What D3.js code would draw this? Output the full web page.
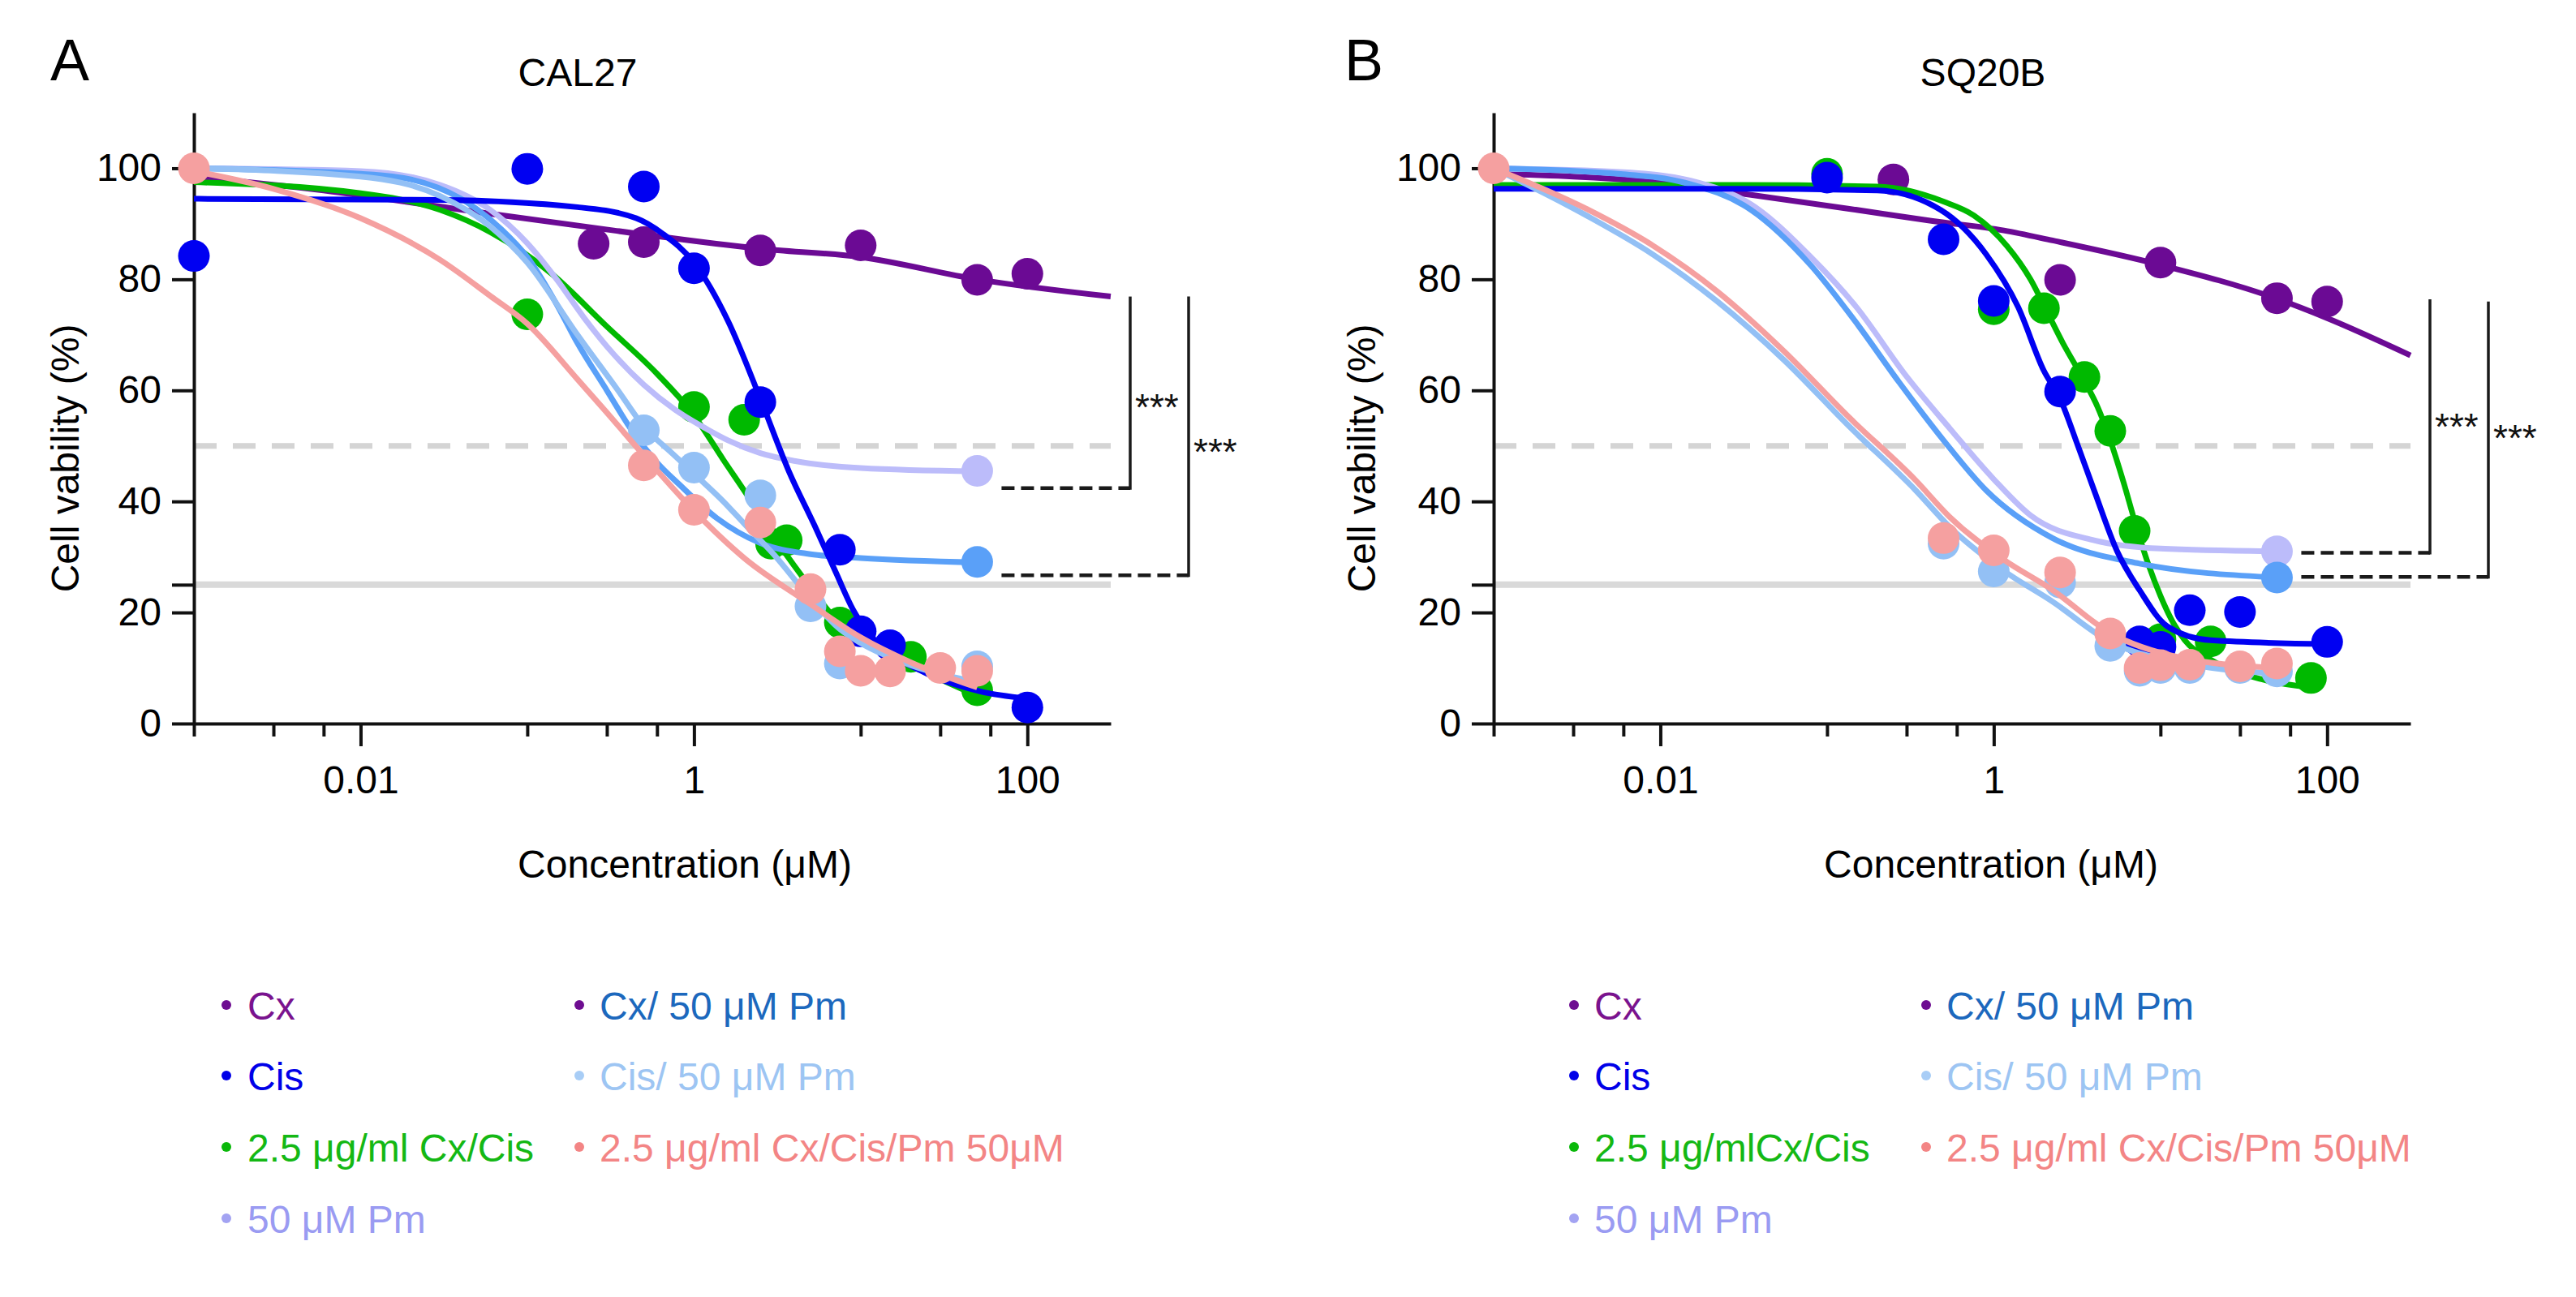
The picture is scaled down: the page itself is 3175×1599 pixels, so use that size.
<!DOCTYPE html>
<html>
<head>
<meta charset="utf-8">
<script src="https://cdn.jsdelivr.net/npm/d3@7"></script>
<style>
  body { margin: 0; background: #fff; }
  text { font-family: "Liberation Sans", Arial, Helvetica, sans-serif; }
</style>
</head>
<body>
<svg id="chart"></svg>
<script>
// ---- axis ticks ----
var xMajorTicks = [0.01, 1, 100];
var xMinorTicks = [0.001, 0.003, 0.006, 0.1, 0.3, 0.6, 10, 30, 60];
var yTicks = [0, 20, 25, 40, 60, 80, 100];

// ---- CAL27 (panel A) : [concentration uM, viability %] ----
var calCxDots = [[0.25, 86.4], [0.5, 86.7], [2.5, 85.2], [10, 86.1], [50, 79.9], [100, 81]];
var calCxFit = [[0.001, 98.5], [0.006, 96], [0.035, 92.8], [0.33, 88.8], [2.5, 85.5], [10, 84], [50, 80], [316, 76.9]];

var calCisDots = [[0.001, 84.2], [0.1, 99.9], [0.5, 96.7], [1, 82], [2.5, 57.9], [7.5, 31.3], [10, 16.6], [15, 14.1], [100, 2.9]];
var calCisFit = [[0.001, 94.5], [0.03, 94.3], [0.2, 93], [0.45, 91], [0.65, 88.2], [1, 83], [1.6, 72.5], [2.5, 58.5], [3.7, 45.5],
                 [5.3, 35.6], [7.1, 27.2], [9, 20.5], [12.4, 14.7], [23, 9.5], [52, 5.8], [100, 4.5]];

var calComboDots = [[0.1, 73.7], [1, 57], [2, 54.7], [2.9, 32.4], [3.6, 33], [7.5, 18.2], [20, 12], [50, 6]];
var calComboFit = [[0.001, 97.5], [0.01, 95.5], [0.03, 92.5], [0.06, 88.5], [0.14, 81], [0.3, 71.5], [0.6, 63], [1, 55.5],
                   [1.5, 47.5], [2.1, 41], [3.2, 32.5], [5, 24.5], [7, 19], [12, 14], [20, 10.5], [50, 5]];

var calPmDots = [[50, 45.5]];
var calPmFit = [[0.001, 100], [0.01, 99.5], [0.03, 97], [0.06, 92.5], [0.1, 86.5], [0.15, 80], [0.22, 73], [0.33, 66.5],
                [0.5, 61], [0.77, 56.5], [1.2, 53], [1.6, 51], [2.5, 48.7], [4, 47.3], [10, 46], [50, 45.4]];

var calCxPmDots = [[50, 29.1]];
var calCxPmFit = [[0.001, 100], [0.01, 99], [0.02, 98], [0.04, 94.5], [0.07, 89], [0.1, 84], [0.15, 75.5], [0.2, 68.5],
                  [0.3, 60], [0.43, 52.5], [0.6, 47], [0.82, 43], [1.37, 37], [2.5, 32.5], [5, 30.5], [10, 29.8], [50, 29]];

var calCisPmDots = [[0.5, 52.8], [1, 46.1], [2.5, 41.1], [5, 21.1], [7.5, 10.8], [50, 10.3]];
var calCisPmFit = [[0.001, 100], [0.01, 98.5], [0.03, 95], [0.06, 89.5], [0.1, 83], [0.2, 70], [0.35, 60], [0.5, 53.5],
                   [0.75, 48.5], [1, 45], [1.5, 40], [2, 36], [3, 30.5], [5, 22.5], [7.5, 17], [10, 14.5], [20, 10.5], [50, 7.5]];

var calComboPmDots = [[0.001, 100], [0.5, 46.5], [1, 38.5], [2.5, 36.2], [5, 24.2], [7.5, 13], [10, 9.5], [15, 9.4], [30, 10], [50, 9.5]];
var calComboPmFit = [[0.001, 99.5], [0.003, 96.3], [0.01, 91], [0.03, 83.5], [0.06, 77], [0.1, 72], [0.2, 62], [0.3, 56],
                     [0.5, 48.3], [1, 38.3], [2, 29.8], [5, 21.5], [10, 15.5], [20, 11], [50, 6.5]];

// ---- SQ20B (panel B) ----
var sqCxDots = [[0.25, 98], [2.5, 79.9], [10, 83], [50, 76.6], [100, 76]];
var sqCxFit = [[0.001, 99], [0.009, 97.5], [0.035, 95.2], [0.136, 92.7], [0.43, 90.5], [1.15, 88.8], [2.25, 87],
               [10, 82.6], [50, 76.5], [100, 73], [316, 66.3]];

var sqCisDots = [[0.1, 98.3], [0.5, 87.2], [1, 76.1], [2.5, 59.8], [7.5, 14.8], [10, 13.8], [15, 20.4], [30, 20.1], [100, 14.7]];
var sqCisFit = [[0.001, 96.3], [0.03, 96.3], [0.2, 96], [0.48, 92.5], [0.9, 84.5], [1.4, 75], [2, 63.5], [2.5, 58.5],
                [3.2, 50], [4, 42], [5.5, 31], [7.5, 24], [11, 17.5], [20, 15], [100, 14.3]];

var sqComboDots = [[0.1, 99], [1, 74.6], [2, 74.8], [3.5, 62.4], [5, 52.7], [7, 34.7], [10, 15.2], [20, 14.8], [80, 8.2]];
var sqComboFit = [[0.001, 97], [0.03, 97], [0.2, 96.7], [0.5, 94], [0.76, 91.5], [1.2, 86], [1.66, 80], [2.1, 74],
                  [2.6, 68.5], [3.45, 62], [4.2, 57], [5, 51], [6, 43.5], [7, 36.5], [8.5, 28.5], [10, 23], [12, 18],
                  [14, 15], [20, 11.5], [40, 8], [80, 6.5]];

var sqPmDots = [[50, 31]];
var sqPmFit = [[0.001, 100], [0.006, 99.3], [0.015, 97.8], [0.035, 93.5], [0.08, 84], [0.15, 75], [0.3, 62.5],
               [0.55, 53], [1, 44], [1.66, 37.5], [4, 33], [10, 31.5], [50, 31]];

var sqCxPmDots = [[50, 26.3]];
var sqCxPmFit = [[0.001, 100], [0.0056, 99], [0.014, 97.4], [0.035, 92.5], [0.08, 82.5], [0.147, 72.5], [0.27, 61.5],
                 [0.5, 51], [0.9, 42], [2.25, 33.4], [7.5, 28.8], [50, 26.3]];

var sqCisPmDots = [[0.5, 32.4], [1, 27.4], [2.5, 25.4], [5, 14], [7.5, 9.5], [10, 10], [15, 10], [30, 10], [50, 9.4]];
var sqCisPmFit = [[0.001, 100], [0.0036, 91.5], [0.009, 84.5], [0.022, 76], [0.055, 65.5], [0.136, 53.5], [0.34, 42],
                  [0.54, 35.5], [1.15, 27.5], [2.24, 22], [5, 14.7], [13, 11], [50, 9]];

var sqComboPmDots = [[0.001, 100], [0.5, 33.4], [1, 31.2], [2.5, 27.2], [5, 16.2], [7.5, 10], [10, 10.5], [15, 10.6], [30, 10.3], [50, 10.8]];
var sqComboPmFit = [[0.001, 100], [0.0036, 92.7], [0.009, 86.1], [0.022, 77.8], [0.055, 67.1], [0.136, 55.1], [0.34, 43.8],
                    [0.54, 37.3], [1.15, 29.5], [2.24, 24.1], [5, 16.3], [13, 11.9], [50, 10]];

// ---- significance brackets (viability %) ----
var calBracketTop = [76.9, 76.9];
var calBracketBottom = [42.4, 26.7];
var calStarLevel = [58.4, 50.4];
var sqBracketTop = [76.4, 76];
var sqBracketBottom = [30.75, 26.4];
var sqStarLevel = [54.9, 52.9];

// ---- legend ----
var legendA = ["Cx", "Cis", "2.5 μg/ml Cx/Cis", "50 μM Pm", "Cx/ 50 μM Pm", "Cis/ 50 μM Pm", "2.5 μg/ml Cx/Cis/Pm 50μM"];
var legendB = ["Cx", "Cis", "2.5 μg/mlCx/Cis", "50 μM Pm", "Cx/ 50 μM Pm", "Cis/ 50 μM Pm", "2.5 μg/ml Cx/Cis/Pm 50μM"];
var legendTextColors = ["#7a138e", "#0000e8", "#14b814", "#9a9bf2", "#1c68bd", "#9dc5f3", "#f38585"];
var legendDotColors = ["#6e0d91", "#0000e8", "#0ab80a", "#a3a3f2", "#6e0d91", "#a8cdf6", "#f38585"];

// series colours (plot)
var colCx = "#6b0a94", colCis = "#0000f2", colCombo = "#00b900", colPm = "#bcbcfa",
    colCxPm = "#5aa0f8", colCisPm = "#93c0f5", colComboPm = "#f5a0a0";

var width = 3175, height = 1599;
var svg = d3.select("#chart").attr("width", width).attr("height", height);
svg.append("rect").attr("width", width).attr("height", height).attr("fill", "#fff");

var panels = [
  { letter: "A", title: "CAL27", x0: 239, x1: 1369, letterX: 62, titleX: 712, yLabelX: 97, xLabelX: 844,
    legend: legendA, legendDotX: [279, 714], legendTextX: [305, 739],
    bracketTop: calBracketTop, bracketBottom: calBracketBottom, starLevel: calStarLevel,
    series: [
      { fit: calCxFit, dots: calCxDots, color: colCx },
      { fit: calComboFit, dots: calComboDots, color: colCombo },
      { fit: calPmFit, dots: calPmDots, color: colPm },
      { fit: calCxPmFit, dots: calCxPmDots, color: colCxPm },
      { fit: calCisFit, dots: calCisDots, color: colCis },
      { fit: calCisPmFit, dots: calCisPmDots, color: colCisPm },
      { fit: calComboPmFit, dots: calComboPmDots, color: colComboPm }
    ] },
  { letter: "B", title: "SQ20B", x0: 1841, x1: 2971, letterX: 1657, titleX: 2444, yLabelX: 1695, xLabelX: 2454,
    legend: legendB, legendDotX: [1940, 2374], legendTextX: [1965, 2399],
    bracketTop: sqBracketTop, bracketBottom: sqBracketBottom, starLevel: sqStarLevel,
    series: [
      { fit: sqCxFit, dots: sqCxDots, color: colCx },
      { fit: sqComboFit, dots: sqComboDots, color: colCombo },
      { fit: sqPmFit, dots: sqPmDots, color: colPm },
      { fit: sqCxPmFit, dots: sqCxPmDots, color: colCxPm },
      { fit: sqCisFit, dots: sqCisDots, color: colCis },
      { fit: sqCisPmFit, dots: sqCisPmDots, color: colCisPm },
      { fit: sqComboPmFit, dots: sqComboPmDots, color: colComboPm }
    ] }
];

var y = d3.scaleLinear().domain([0, 110]).range([892, 139]);
var legendRowY = [1239, 1326, 1414, 1502];

panels.forEach(function(p) {
  var x = d3.scaleLog().domain([0.001, 316.2]).range([p.x0, p.x1]);
  var g = svg.append("g");

  // reference lines 50% (dashed) and 25% (solid)
  g.append("line").attr("x1", p.x0).attr("x2", p.x1).attr("y1", y(50)).attr("y2", y(50))
    .attr("stroke", "#d4d4d4").attr("stroke-width", 7).attr("stroke-dasharray", "28 20");
  g.append("line").attr("x1", p.x0).attr("x2", p.x1).attr("y1", y(25)).attr("y2", y(25))
    .attr("stroke", "#d9d9d9").attr("stroke-width", 8);

  // axes
  var yAxis = g.append("g").attr("transform", "translate(" + p.x0 + ",0)")
    .call(d3.axisLeft(y).tickValues(yTicks).tickSize(27).tickPadding(13).tickSizeOuter(0)
      .tickFormat(function(d) { return d == 25 ? "" : d; }));
  var xAxis = g.append("g").attr("transform", "translate(0," + y(0) + ")")
    .call(d3.axisBottom(x).tickValues(xMajorTicks).tickSize(28).tickPadding(24).tickSizeOuter(0)
      .tickFormat(function(d) { return String(d); }));
  var xMinor = g.append("g").attr("transform", "translate(0," + y(0) + ")")
    .call(d3.axisBottom(x).tickValues(xMinorTicks).tickSize(16).tickSizeOuter(0).tickFormat(""));
  xMinor.select(".domain").remove();
  [yAxis, xAxis, xMinor].forEach(function(a) {
    a.selectAll("path, line").attr("stroke", "#111").attr("stroke-width", 4);
    a.selectAll("text").attr("fill", "#000").style("font-size", "48px")
      .style("font-family", "'Liberation Sans', Arial, sans-serif");
  });

  // fitted curves and points
  var line = d3.line()
    .x(function(d) { return x(d[0]); })
    .y(function(d) { return y(d[1]); })
    .curve(d3.curveMonotoneX);

  p.series.forEach(function(s) {
    g.append("path").datum(s.fit).attr("d", line)
      .attr("fill", "none").attr("stroke", s.color).attr("stroke-width", 7);
    g.selectAll(null).data(s.dots).enter().append("circle")
      .attr("cx", function(d) { return x(d[0]); })
      .attr("cy", function(d) { return y(d[1]); })
      .attr("r", 19.5)
      .attr("fill", s.color);
  });

  // significance brackets
  var bx = [p.x1 + 24, p.x1 + 96];
  var dashStart = x(50) + 30;
  p.bracketTop.forEach(function(t, i) {
    g.append("line").attr("x1", dashStart).attr("x2", bx[i])
      .attr("y1", y(p.bracketBottom[i])).attr("y2", y(p.bracketBottom[i]))
      .attr("stroke", "#1a1a1a").attr("stroke-width", 4.5).attr("stroke-dasharray", "16 8");
    g.append("line").attr("x1", bx[i]).attr("x2", bx[i])
      .attr("y1", y(t)).attr("y2", y(p.bracketBottom[i]) + 2)
      .attr("stroke", "#1a1a1a").attr("stroke-width", 3.5);
    g.append("text").attr("x", bx[i] + 6).attr("y", y(p.starLevel[i]) + 26)
      .style("font-size", "46px").attr("fill", "#111").text("***");
  });

  // titles and labels
  g.append("text").attr("x", p.letterX).attr("y", 99).style("font-size", "72px").text(p.letter);
  g.append("text").attr("x", p.titleX).attr("y", 106).attr("text-anchor", "middle")
    .style("font-size", "48px").text(p.title);
  g.append("text").attr("transform", "translate(" + p.yLabelX + ",565) rotate(-90)")
    .attr("text-anchor", "middle").style("font-size", "48px").text("Cell vability (%)");
  g.append("text").attr("x", p.xLabelX).attr("y", 1082).attr("text-anchor", "middle")
    .style("font-size", "48px").text("Concentration (μM)");

  // legend
  p.legend.forEach(function(lbl, i) {
    var col = i < 4 ? 0 : 1;
    var row = i < 4 ? i : i - 4;
    g.append("circle").attr("cx", p.legendDotX[col]).attr("cy", legendRowY[row]).attr("r", 6)
      .attr("fill", legendDotColors[i]);
    g.append("text").attr("x", p.legendTextX[col]).attr("y", legendRowY[row] + 17.5)
      .style("font-size", "48px").attr("fill", legendTextColors[i]).text(lbl);
  });
});
</script>
</body>
</html>
